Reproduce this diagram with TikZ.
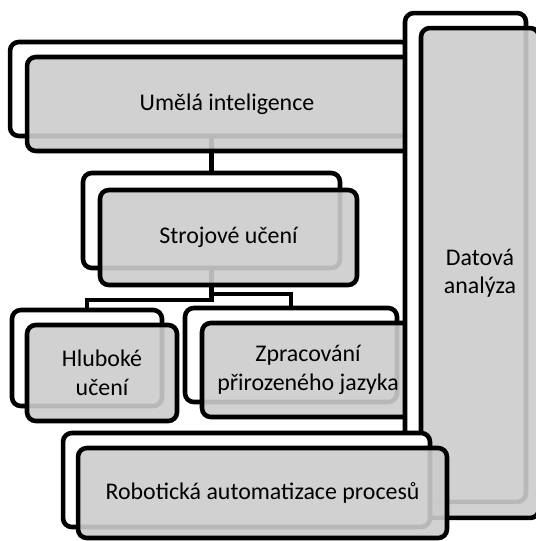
\documentclass[tikz,border=0pt]{standalone}
\usepackage{fontspec}
\setmainfont{Carlito}
\usetikzlibrary{positioning}

\begin{document}
\begin{tikzpicture}[x=0.02cm,y=-0.02cm,
    box/.style={draw,line width=2.6pt,rounded corners=5pt,inner sep=0pt},
    back/.style={box,fill=white},
    front/.style={box,fill=black!20,fill opacity=0.9,text opacity=1,align=center,
                  font=\fontsize{13.6}{16.2}\selectfont},
    link/.style={line width=2.4pt}]
    \useasboundingbox (0,0) rectangle (536,541);

    % back boxes of the tree
    \node[back,minimum width=8cm,minimum height=1.88cm]    (AIb)  at (210,89)      {};
    \node[back,minimum width=5.14cm,minimum height=1.9cm]  (MLb)  at (211.5,220.5) {};
    \node[back,minimum width=3cm,minimum height=1.92cm]    (DLb)  at (87,358)      {};
    \node[back,minimum width=4.24cm,minimum height=1.88cm] (NLPb) at (291,355)     {};

    \draw[link] (MLb.north |- AIb.south) -- (MLb.north);
    \draw[link] (MLb.south) -- ++(0,30) -| (DLb.north);
    \draw[link] (MLb.south) -- ++(0,24) -| (NLPb.north);

    % front boxes of the tree
    \node[front,minimum width=8cm,minimum height=1.88cm]    (AI)  at (227,104)     {Umělá inteligence};
    \node[front,minimum width=5.14cm,minimum height=1.9cm]  (ML)  at (228.5,237.5) {Strojové učení};
    \node[front,minimum width=3cm,minimum height=1.92cm]    (DL)  at (102,373)     {Hluboké\\učení};
    \node[front,minimum width=4.24cm,minimum height=1.88cm] (NLP) at (308,370)     {Zpracování\\přirozeného jazyka};

    % side and bottom boxes
    \node[back,minimum width=2.42cm,minimum height=9.78cm]  (DAb) at (465.5,257.5) {};
    \node[front,minimum width=2.36cm,minimum height=9.8cm]  (DA)  at (480,273)     {Datová\\analýza};

    \node[back,minimum width=7.34cm,minimum height=1.88cm]  (RPAb) at (246.5,480)  {};
    \node[front,minimum width=7.38cm,minimum height=1.8cm]  (RPA)  at (262.5,493)  {Robotická automatizace procesů};
\end{tikzpicture}
\end{document}
